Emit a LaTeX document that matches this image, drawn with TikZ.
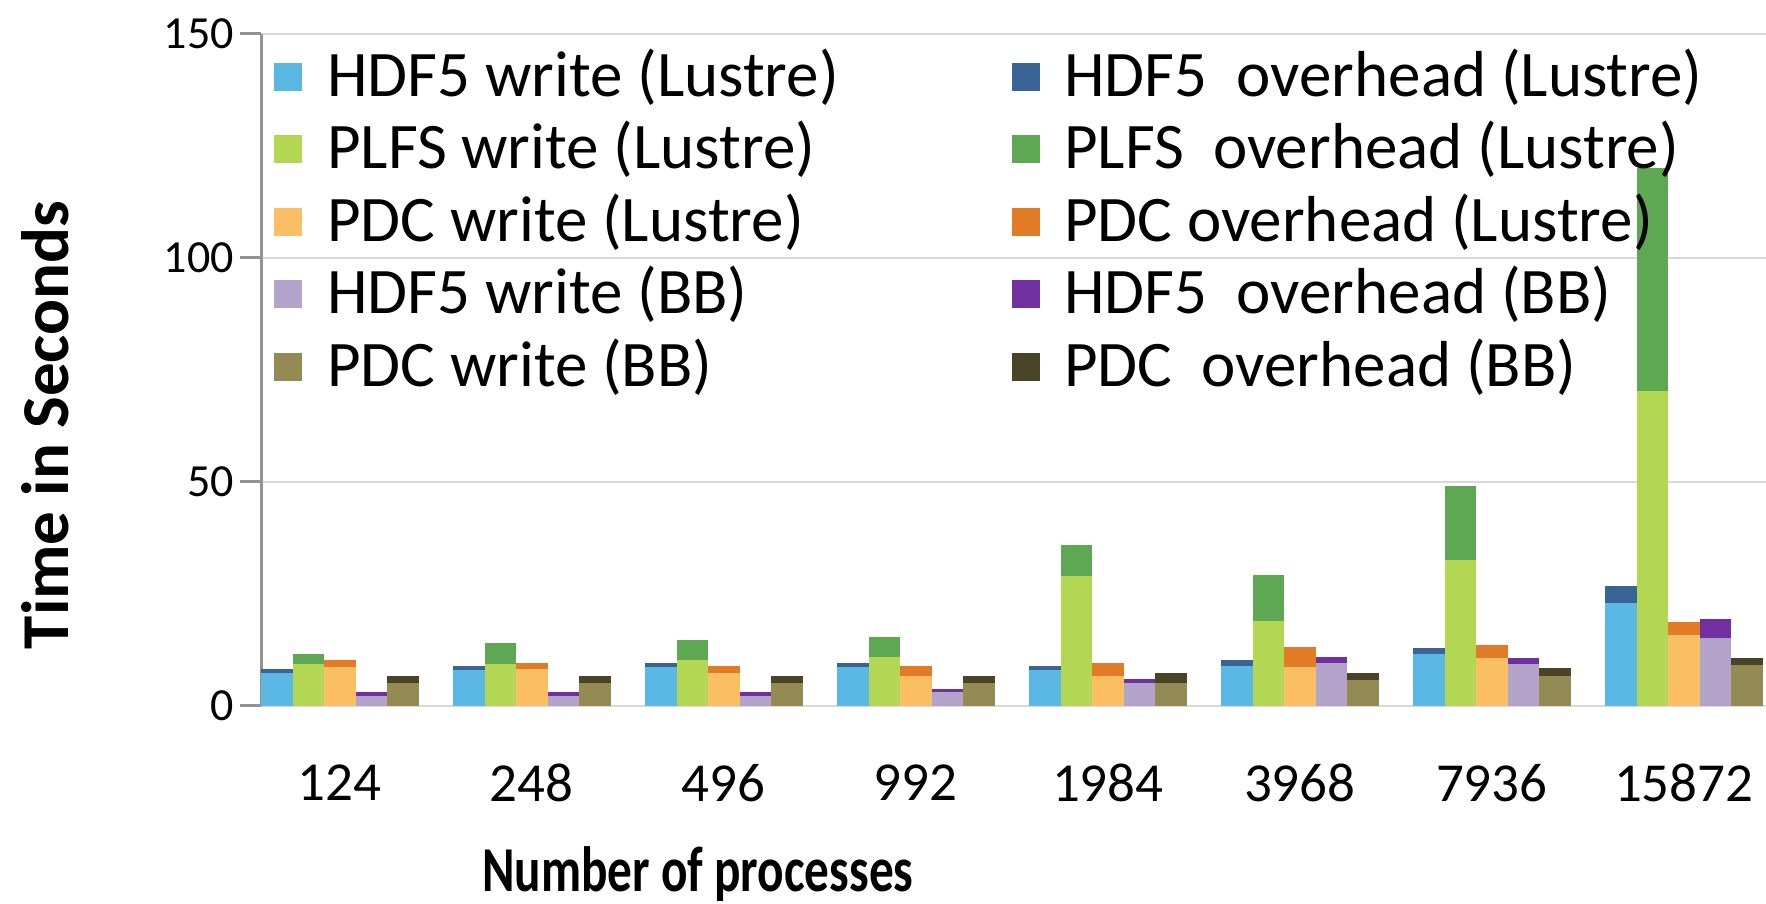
\documentclass[tikz,border=0pt]{standalone}
\usepackage{fontspec}
\setmainfont{Carlito}
\usetikzlibrary{positioning}
% series colours: w = write, o = overhead
\definecolor{colw0}{HTML}{5BB8E5}
\definecolor{colo0}{HTML}{3A6496}
\definecolor{colw1}{HTML}{B3D653}
\definecolor{colo1}{HTML}{5FA853}
\definecolor{colw2}{HTML}{FBBF63}
\definecolor{colo2}{HTML}{E27B25}
\definecolor{colw3}{HTML}{B3A2CA}
\definecolor{colo3}{HTML}{7030A0}
\definecolor{colw4}{HTML}{938A54}
\definecolor{colo4}{HTML}{4A4427}
\tikzset{
    x=1pt, y=1pt, % one unit is one pixel of the picture
    grid line/.style={draw=gray!30, line width=2pt},
    axis line/.style={draw=gray!85, line width=3pt},
    legend text/.style={anchor=west, inner sep=0pt, font=\fontsize{65}{76}\selectfont},
    swatch/.style={minimum size=28pt, inner sep=0pt},
}

\begin{document}
\begin{tikzpicture}[
                        ytick/.style={anchor=east, inner sep=0pt, font=\fontsize{46}{54}\selectfont},
                        xlab/.style={inner sep=0pt, font=\fontsize{55}{62}\selectfont},
                    ]
    \useasboundingbox (0,0) rectangle (1766,904);
    % grid and axis
    \foreach \v in {50,100,150}
        \draw[grid line] (261,198+\v*4.48) -- (1766,198+\v*4.48);
    \draw[grid line] (261,198) -- (1766,198);
    \foreach \v in {0,50,100,150} {
        \draw[axis line] (240,198+\v*4.48) -- (261,198+\v*4.48);
        \node[ytick] (tick\v) at (234,198+\v*4.48) {\v};
    }
    \draw[axis line] (261,198) -- (261,870);
    % stacked bars: write / overhead for each series
    \foreach \g/\lab/\vals in {
            0/124/{7.4/0.8,9.4/2.3,8.8/1.5,2.2/0.9,5.2/1.4},
            1/248/{8.0/0.9,9.4/4.6,8.2/1.4,2.2/0.9,5.2/1.4},
            2/496/{8.8/0.8,10.3/4.4,7.4/1.5,2.2/0.9,5.2/1.4},
            3/992/{8.8/0.8,10.9/4.5,6.6/2.3,3.1/0.8,5.2/1.4},
            4/1984/{8.1/0.8,29.0/6.9,6.6/3.1,5.1/0.9,5.2/2.2},
            5/3968/{8.9/1.4,19.0/10.2,8.8/4.4,9.5/1.5,5.9/1.4},
            6/7936/{11.5/1.4,32.6/16.6,10.8/2.9,9.4/1.4,6.6/1.8},
            7/15872/{23.1/3.6,70.4/49.6,15.8/2.9,15.1/4.4,9.2/1.5}} {
        \foreach [count=\j from 0] \w/\o in \vals {
            \fill[colw\j] (261+192*\g+31.5*\j,198) rectangle ++(31.5,\w*4.48);
            \fill[colo\j] (261+192*\g+31.5*\j,198+\w*4.48) rectangle ++(31.5,\o*4.48);
        }
        \node[xlab] (lab\g) at (261+192*\g+78.75,121) {\lab};
    }
    % legend
    \foreach \r/\ca/\ta/\cb/\tb in {
            0/0/HDF5 write (Lustre)/0/HDF5\ \ overhead (Lustre),
            1/1/PLFS write (Lustre)/1/PLFS\ \ overhead (Lustre),
            2/2/PDC write (Lustre)/2/PDC overhead (Lustre),
            3/3/HDF5 write (BB)/3/HDF5\ \ overhead (BB),
            4/4/PDC write (BB)/4/PDC\ \ overhead (BB)} {
        \node[swatch, fill=colw\ca] (swa\r) at (288,827-72.5*\r) {};
        \node[legend text] (lea\r) at (327,827-72.5*\r) {\ta};
        \node[swatch, fill=colo\cb] (swb\r) at (1026,827-72.5*\r) {};
        \node[legend text] (leb\r) at (1064,827-72.5*\r) {\tb};
    }
    % axis titles
    \node[font=\bfseries\fontsize{64}{72}\selectfont, xscale=0.77, transform shape] (xtitle) at (698,30) {Number of processes};
    \node[font=\bfseries\fontsize{67}{76}\selectfont, rotate=90, transform shape] (ytitle) at (45,479) {Time in Seconds};
\end{tikzpicture}
\end{document}
